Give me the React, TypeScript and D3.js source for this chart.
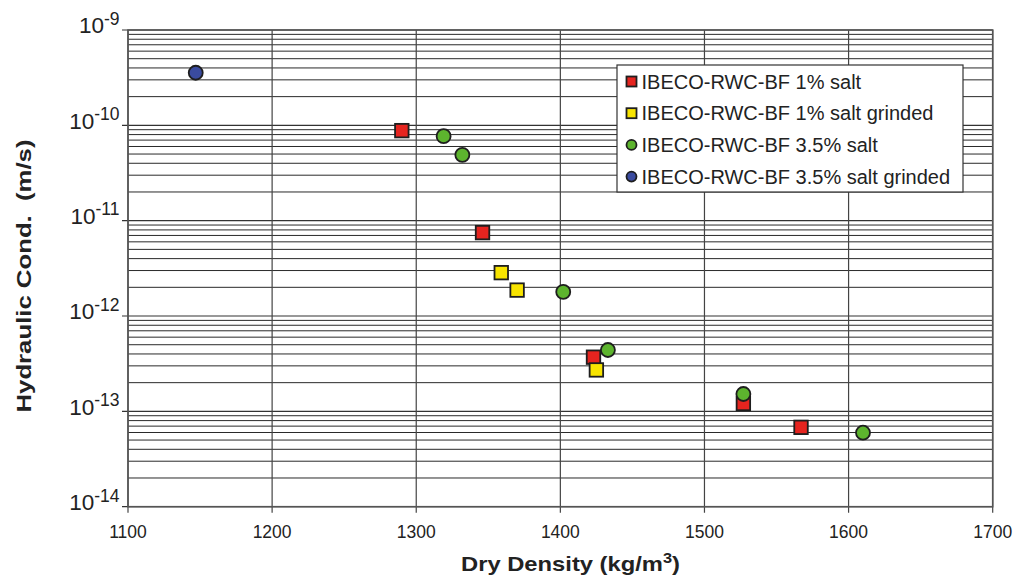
import React from "react";
import * as d3 from "d3";

const xTicks = [1100, 1200, 1300, 1400, 1500, 1600, 1700];
const yExponents = [-9, -10, -11, -12, -13, -14];

const seriesNames = [
  "IBECO-RWC-BF 1% salt",
  "IBECO-RWC-BF 1% salt grinded",
  "IBECO-RWC-BF 3.5% salt",
  "IBECO-RWC-BF 3.5% salt grinded",
];
const seriesColors = ["#e5241f", "#f8e400", "#5db42e", "#3a4b9f"];
const seriesShapes = ["square", "square", "circle", "circle"];

const salt1Density = [1290, 1346, 1423, 1527, 1567];
const salt1K = [8.8e-11, 7.5e-12, 3.7e-13, 1.21e-13, 6.8e-14];

const salt1GrindDensity = [1359, 1370, 1425];
const salt1GrindK = [2.85e-12, 1.87e-12, 2.72e-13];

const salt35Density = [1319, 1332, 1402, 1433, 1527, 1610];
const salt35K = [7.7e-11, 4.9e-11, 1.79e-12, 4.4e-13, 1.52e-13, 5.97e-14];

const salt35GrindDensity = [1147];
const salt35GrindK = [3.56e-10];

const seriesDensity = [salt1Density, salt1GrindDensity, salt35Density, salt35GrindDensity];
const seriesK = [salt1K, salt1GrindK, salt35K, salt35GrindK];

const W = 1015;
const H = 578;
const left = 128;
const right = 992.7;
const top = 30;
const bottom = 506.7;

const font = "'Liberation Sans', Arial, Helvetica, sans-serif";

function Marker({ shape, cx, cy, color, size }: any) {
  if (shape === "square") {
    return (
      <rect
        x={cx - size / 2}
        y={cy - size / 2}
        width={size}
        height={size}
        fill={color}
        stroke="#1e1e1e"
        strokeWidth={1.8}
      />
    );
  }
  return <circle cx={cx} cy={cy} r={size / 2} fill={color} stroke="#1e1e1e" strokeWidth={1.8} />;
}

export default function App() {
  const x = d3.scaleLinear().domain([1100, 1700]).range([left, right]);
  const y = d3.scaleLog().domain([1e-14, 1e-9]).range([bottom, top]);

  const minorLines: number[] = [];
  for (let e = -14; e < -9; e++) {
    for (let m = 2; m <= 9; m++) minorLines.push(m * Math.pow(10, e));
  }

  return (
    <div style={{ position: "absolute", left: 0, top: 0 }}>
      <svg width={W} height={H} style={{ display: "block", background: "#fff" }} fontFamily={font}>
        <rect x={0} y={0} width={W} height={H} fill="#fff" />
        {minorLines.map((v, i) => (
          <line key={"mn" + i} x1={left} x2={right} y1={y(v)} y2={y(v)} stroke="#2a2a2a" strokeWidth={1} />
        ))}
        {yExponents.map((e) => (
          <line
            key={"mj" + e}
            x1={left - 6}
            x2={right}
            y1={y(Math.pow(10, e))}
            y2={y(Math.pow(10, e))}
            stroke="#333"
            strokeWidth={1.2}
          />
        ))}
        {xTicks.map((t) => (
          <line key={"vx" + t} x1={x(t)} x2={x(t)} y1={top} y2={bottom + 6} stroke="#444" strokeWidth={1.2} />
        ))}
        <rect x={left} y={top} width={right - left} height={bottom - top} fill="none" stroke="#555" strokeWidth={1.6} />

        {yExponents.map((e) => (
          <text
            key={"yl" + e}
            x={119.5}
            y={y(Math.pow(10, e)) + 3.3}
            textAnchor="end"
            fontSize={22.5}
            fill="#222"
          >
            10
            <tspan fontSize={17.5} dy={-8.5}>
              {String(e)}
            </tspan>
          </text>
        ))}

        {xTicks.map((t) => (
          <text key={"xl" + t} x={x(t)} y={537.5} textAnchor="middle" fontSize={17.5} fill="#222">
            {t}
          </text>
        ))}

        <text
          x={461}
          y={571}
          fontSize={21}
          fontWeight="bold"
          fill="#222"
          textLength={219}
          lengthAdjust="spacingAndGlyphs"
        >
          Dry Density (kg/m
          <tspan fontSize={14.5} dy={-8.5}>
            3
          </tspan>
          <tspan dy={8.5}>)</tspan>
        </text>
        <text
          transform="translate(31,276) rotate(-90)"
          textAnchor="middle"
          fontSize={20.5}
          fontWeight="bold"
          fill="#222"
          textLength={273}
          lengthAdjust="spacingAndGlyphs"
          style={{ whiteSpace: "pre" }}
        >
          {"Hydraulic Cond.  (m/s)"}
        </text>

        {seriesNames.map((name, si) =>
          seriesDensity[si].map((dv, i) => (
            <Marker
              key={name + i}
              shape={seriesShapes[si]}
              cx={x(dv)}
              cy={y(seriesK[si][i])}
              color={seriesColors[si]}
              size={seriesShapes[si] === "square" ? 13.5 : 14}
            />
          ))
        )}

        <rect x={617} y={65} width={346} height={127} fill="#fff" stroke="#333" strokeWidth={1.2} />
        {seriesNames.map((name, si) => {
          const by = 88.5 + si * 31.7;
          return (
            <g key={"lg" + si}>
              <Marker shape={seriesShapes[si]} cx={631.5} cy={by - 7} color={seriesColors[si]} size={10} />
              <text x={641.5} y={by} fontSize={20} fill="#222">
                {name}
              </text>
            </g>
          );
        })}
      </svg>
    </div>
  );
}
